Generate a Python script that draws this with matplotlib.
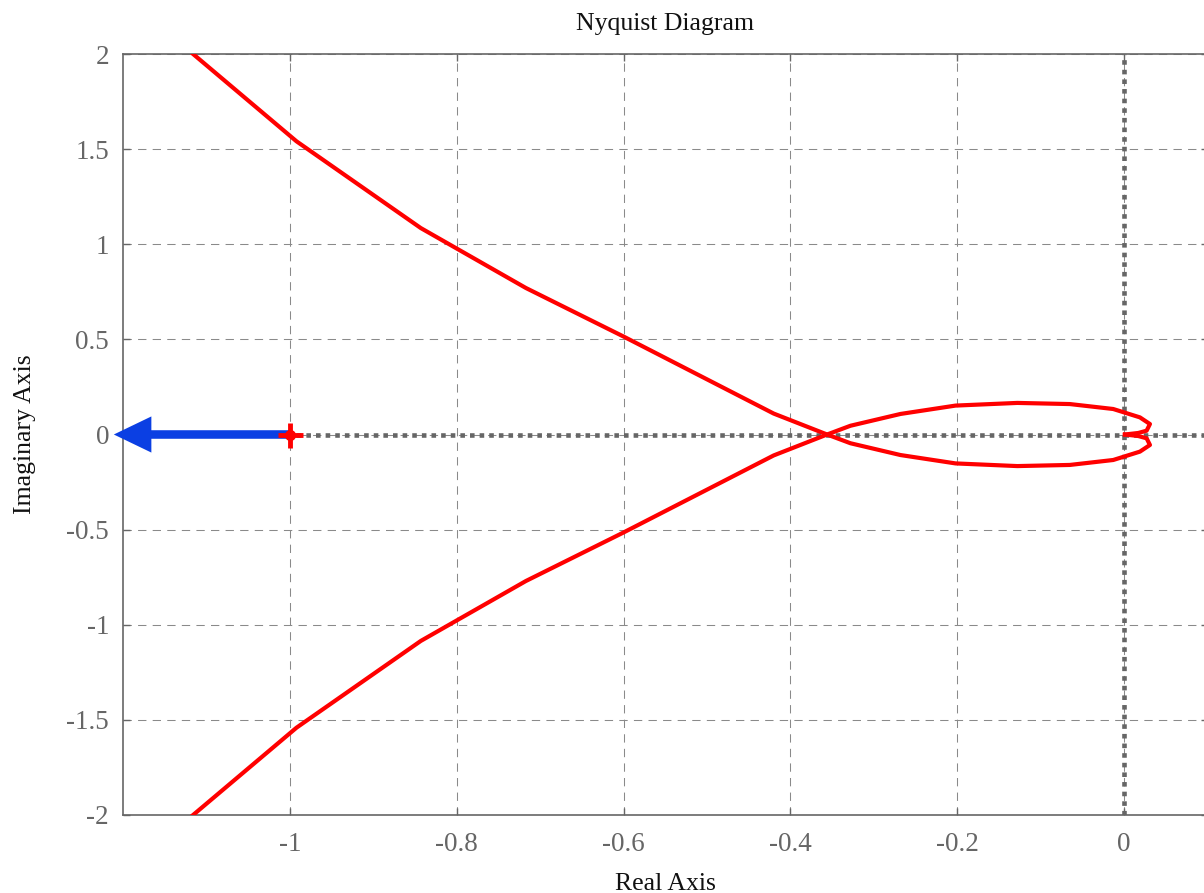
import matplotlib
matplotlib.use('Agg')
import matplotlib.pyplot as plt
import numpy as np

# one branch of the Nyquist curve (positive-imaginary start, ends at origin from below)
re_branch = [-1.116, -0.992, -0.843, -0.717, -0.600, -0.420, -0.356, -0.328, -0.268,
             -0.202, -0.128, -0.065, -0.013, 0.019, 0.031, 0.027, 0.017, 0.001]
im_branch = [2.000, 1.541, 1.085, 0.770, 0.515, 0.110, 0.000, -0.046, -0.108,
             -0.152, -0.166, -0.160, -0.134, -0.090, -0.055, -0.020, -0.008, 0.000]

critical_point = (-1.0, 0.0)
arrow_tip = -1.211

x_ticks = [-1, -0.8, -0.6, -0.4, -0.2, 0]
x_tick_labels = ["-1", "-0.8", "-0.6", "-0.4", "-0.2", "0"]
y_ticks = [2, 1.5, 1, 0.5, 0, -0.5, -1, -1.5, -2]
y_tick_labels = ["2", "1.5", "1", "0.5", "0", "-0.5", "-1", "-1.5", "-2"]

plt.rcParams['font.family'] = ['Liberation Serif', 'DejaVu Serif']
plt.rcParams['axes.unicode_minus'] = False

fig = plt.figure(figsize=(12.04, 8.93), dpi=100)
ax = fig.add_axes([123 / 1204, 78 / 893, 1084.5 / 1204, 761 / 893])

ax.set_xlim(-1.2, 0.1)
ax.set_ylim(-2, 2)

# dashed grid
for xv in x_ticks:
    ax.axvline(xv, color='#8a8a8a', lw=0.75, ls=(0, (8, 6)), zorder=1)
for yv in y_ticks:
    ax.axhline(yv, color='#8a8a8a', lw=0.75, ls=(0, (8, 6)), zorder=1)

# real and imaginary axes as dotted lines
dot_style = dict(color='#666666', lw=3.3, ls=(0, (1, 1.1)), dash_capstyle='butt', zorder=2)
ax.axhline(0, **dot_style)
ax.axvline(0, **dot_style)

re = np.array(re_branch)
im = np.array(im_branch)
ax.plot(re, im, color='#ff0000', lw=3, zorder=4)
ax.plot(re, -im, color='#ff0000', lw=3, zorder=4)

# critical point marker
ax.plot(*critical_point, marker='+', ms=18, mew=3.5, color='#ff0000', zorder=6)
ax.plot(*critical_point, marker='o', ms=7, color='#ff0000', zorder=6)

# arrow from critical point towards the left
ax.arrow(critical_point[0], critical_point[1], arrow_tip - critical_point[0], 0,
         width=0.045, head_width=0.19, head_length=0.045, length_includes_head=True,
         color='#0b3fe3', lw=0, zorder=5, clip_on=False)

ax.set_xticks(x_ticks)
ax.set_xticklabels(x_tick_labels)
ax.set_yticks(y_ticks)
ax.set_yticklabels(y_tick_labels)
ax.tick_params(direction='in', length=5, width=1, color='#666666', labelcolor='#666666',
               labelsize=19.5, top=True, right=True)
ax.tick_params(axis='x', pad=12)
ax.tick_params(axis='y', pad=10)

for s in ax.spines.values():
    s.set_color('#666666')
    s.set_linewidth(1.2)

ax.set_title("Nyquist Diagram", fontsize=18.5, color='#111111', pad=17)
ax.set_xlabel("Real Axis", fontsize=18.5, color='#111111', labelpad=12)
ax.set_ylabel("Imaginary Axis", fontsize=18.5, color='#111111', labelpad=22)

fig.savefig("out.png", dpi=100)
